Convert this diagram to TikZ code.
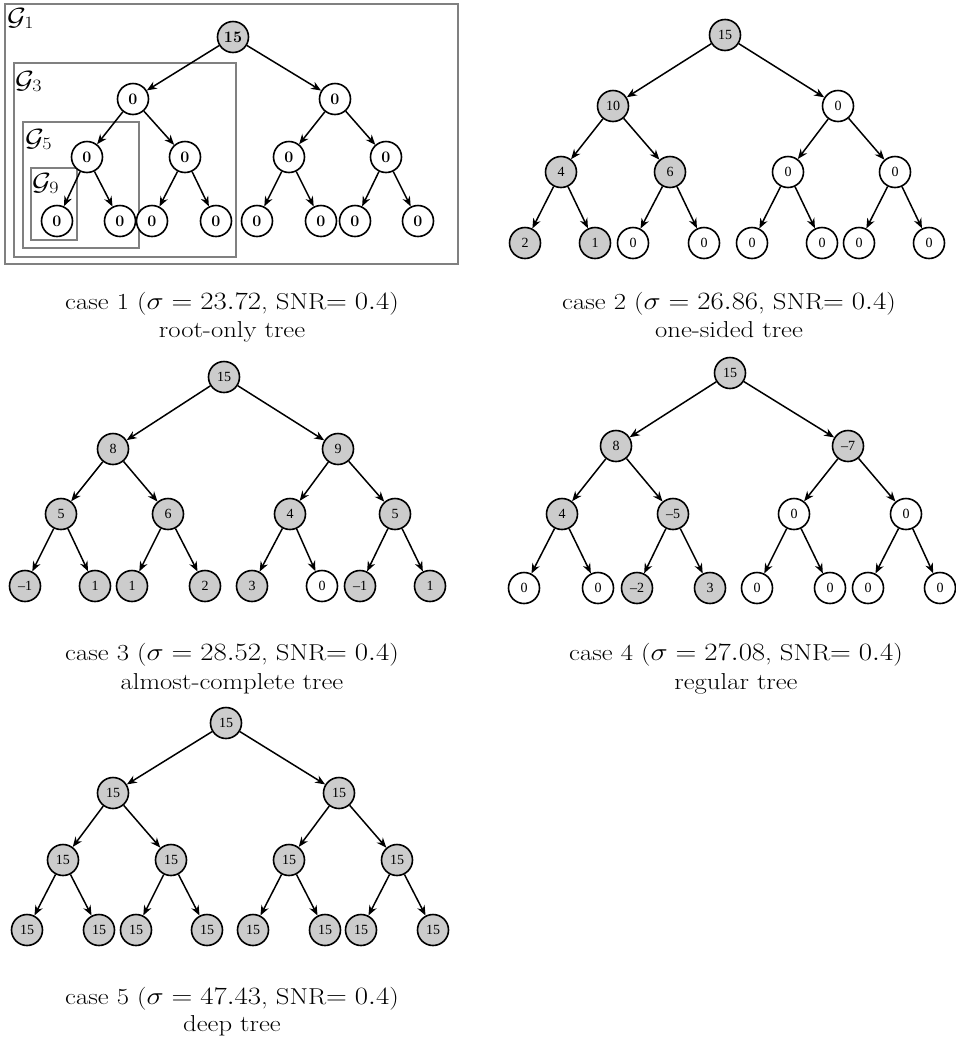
\documentclass[tikz,border=0pt]{standalone}
\usepackage{fontspec}
\usepackage{graphicx}
\newfontfamily\timesf{Liberation Serif}
\usetikzlibrary{arrows.meta}
\newcommand{\wide}[1]{\scalebox{1.16}[1]{#1}}
\begin{document}
\begin{tikzpicture}[x=1pt,y=-1pt,
  nd/.style={circle,draw=black,line width=1.6pt,minimum size=31pt,inner sep=0pt},
  ndf/.style={nd,fill=black!20},
  ndw/.style={nd,fill=white},
  edge/.style={line width=1.5pt,-{Stealth[length=10pt,width=8pt]}},
  gbox/.style={draw=black!50,line width=2.2pt},
  glab/.style={anchor=base west,inner sep=0pt,font=\fontsize{25}{28}\selectfont},
  captxt/.style={anchor=base,inner sep=0pt,font=\fontsize{23}{27}\selectfont}
]
\useasboundingbox (0,0) rectangle (956,1037);
\fill[white] (0,0) rectangle (956,1037);

% ---------- boxes of case 1
\draw[gbox] (5,4) rectangle (458,264);
\draw[gbox] (14,63) rectangle (236,257);
\draw[gbox] (23,122) rectangle (139,248);
\draw[gbox] (31,168) rectangle (77,240);
\node[glab] (g1) at (7,25) {\wide{$\mathcal{G}_1$}};
\node[glab] (g3) at (15,88) {\wide{$\mathcal{G}_3$}};
\node[glab] (g5) at (25,146) {\wide{$\mathcal{G}_5$}};
\node[glab] (g9) at (32,190) {\wide{$\mathcal{G}_9$}};

% ---------- tree 1
\begin{scope}[every node/.append style={font=\fontsize{16}{16}\selectfont\bfseries}]
\foreach \i/\x/\y/\v/\s in {1/233/37/15/f, 2/133/99/0/w, 3/335/99/0/w,
  4/87/157/0/w, 5/185/157/0/w, 6/289/157/0/w, 7/386/157/0/w,
  8/57/221/0/w, 9/120/221/0/w, 10/152/221/0/w, 11/216/221/0/w,
  12/257/221/0/w, 13/321/221/0/w, 14/355/221/0/w, 15/418/221/0/w}
  \node[nd\s] (a\i) at (\x,\y) {\v};
\end{scope}

% ---------- tree 2
\begin{scope}[every node/.append style={font=\fontsize{14}{14}\timesf}]
\foreach \i/\x/\y/\v/\s in {1/725/35/15/f, 2/613/106/10/f, 3/838/106/0/w,
  4/561/172/4/f, 5/670/172/6/f, 6/788/172/0/w, 7/895/172/0/w,
  8/525/243/2/f, 9/595/243/1/f, 10/633/243/0/w, 11/704/243/0/w,
  12/752/243/0/w, 13/822/243/0/w, 14/859/243/0/w, 15/929/243/0/w}
  \node[nd\s] (b\i) at (\x,\y) {\v};

% ---------- tree 3
\foreach \i/\x/\y/\v/\s in {1/224/377/15/f, 2/113/449/8/f, 3/338/449/9/f,
  4/61/514/5/f, 5/168/514/6/f, 6/290/514/4/f, 7/395/514/5/f,
  8/25/586/{–1}/f, 9/95/586/1/f, 10/132/586/1/f, 11/205/586/2/f,
  12/252/586/3/f, 13/322/586/0/w, 14/360/586/{–1}/f, 15/430/586/1/f}
  \node[nd\s] (c\i) at (\x,\y) {\v};

% ---------- tree 4
\foreach \i/\x/\y/\v/\s in {1/730/373/15/f, 2/616/446/8/f, 3/848/446/{–7}/f,
  4/562/514/4/f, 5/673/514/{–5}/f, 6/794/514/0/w, 7/906/514/0/w,
  8/524/588/0/w, 9/598/588/0/w, 10/637/588/{–2}/f, 11/710/588/3/f,
  12/757/588/0/w, 13/830/588/0/w, 14/868/588/0/w, 15/940/588/0/w}
  \node[nd\s] (d\i) at (\x,\y) {\v};

% ---------- tree 5
\foreach \i/\x/\y/\v/\s in {1/226/723/15/f, 2/113/793/15/f, 3/339/793/15/f,
  4/63/860/15/f, 5/171/860/15/f, 6/289/860/15/f, 7/397/860/15/f,
  8/27/930/15/f, 9/99/930/15/f, 10/136/930/15/f, 11/207/930/15/f,
  12/253/930/15/f, 13/325/930/15/f, 14/361/930/15/f, 15/433/930/15/f}
  \node[nd\s] (e\i) at (\x,\y) {\v};
\end{scope}

% ---------- edges
\foreach \t in {a,b,c,d,e}{
  \foreach \p in {1,...,7}{
    \pgfmathtruncatemacro\lc{2*\p}
    \pgfmathtruncatemacro\rc{2*\p+1}
    \draw[edge] (\t\p) -- (\t\lc);
    \draw[edge] (\t\p) -- (\t\rc);
  }
}

% ---------- captions
\node[captxt] (cap1a) at (232,309) {\wide{case 1 ($\sigma=23.72$, SNR$=0.4$)}};
\node[captxt] (cap1b) at (232,337) {\wide{root-only tree}};
\node[captxt] (cap2a) at (729,309) {\wide{case 2 ($\sigma=26.86$, SNR$=0.4$)}};
\node[captxt] (cap2b) at (729,337) {\wide{one-sided tree}};
\node[captxt] (cap3a) at (232,660) {\wide{case 3 ($\sigma=28.52$, SNR$=0.4$)}};
\node[captxt] (cap3b) at (232,689) {\wide{almost-complete tree}};
\node[captxt] (cap4a) at (736,660) {\wide{case 4 ($\sigma=27.08$, SNR$=0.4$)}};
\node[captxt] (cap4b) at (736,689) {\wide{regular tree}};
\node[captxt] (cap5a) at (232,1004) {\wide{case 5 ($\sigma=47.43$, SNR$=0.4$)}};
\node[captxt] (cap5b) at (232,1031) {\wide{deep tree}};
\end{tikzpicture}
\end{document}
